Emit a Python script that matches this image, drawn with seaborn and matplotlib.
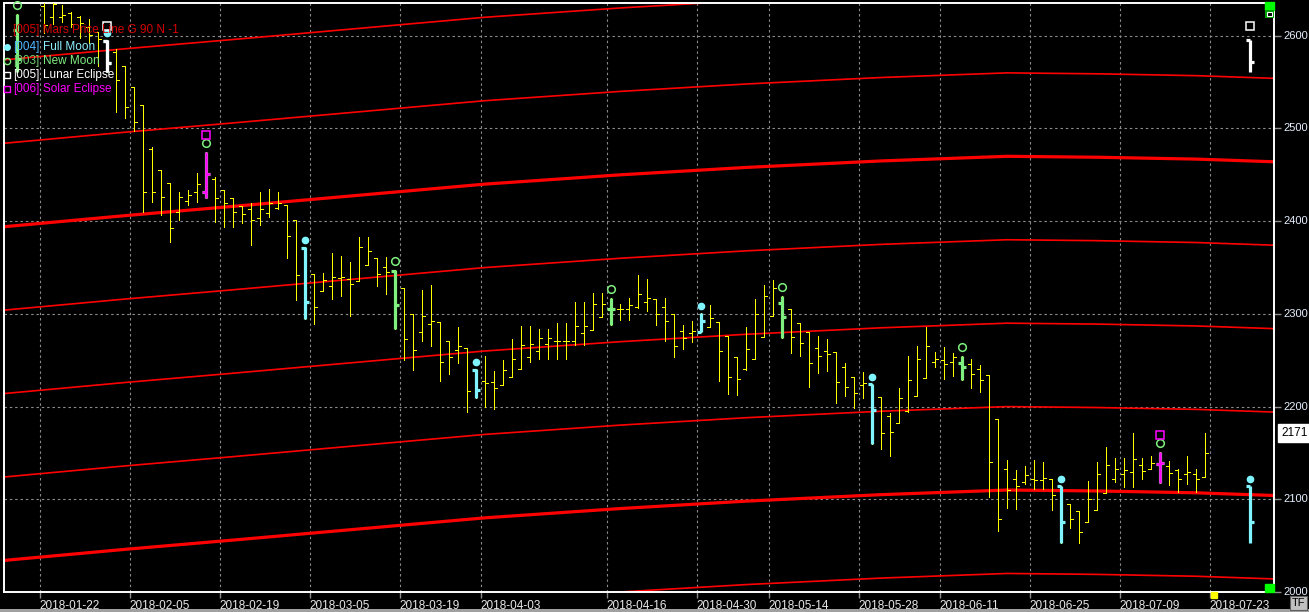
import numpy as np
import pandas as pd
import matplotlib
matplotlib.use("Agg")
import matplotlib.pyplot as plt
import seaborn as sns
from matplotlib.patches import Rectangle
from matplotlib.transforms import offset_copy, blended_transform_factory

# ---------------- data ----------------
opens = [2606, np.nan, np.nan, 2632, 2620, 2620, 2625, 2620, 2610, 2604,
         2594, 2583, 2567, 2545, 2525, 2478, 2455, 2441, 2410, 2422,
         2432, 2431, 2445, 2434, 2425, 2416, 2413, 2403, 2409, 2414,
         2417, 2401, 2371, 2343, 2325, 2330, 2339, 2338, 2336, 2353,
         2360, 2351, 2346, 2328, 2300, 2280, 2289, 2291, 2271, 2261,
         2263, 2240, 2228, 2227, 2223, 2232, 2241, 2253, 2260, 2267,
         2271, 2271, 2271, 2279, 2283, 2297, 2305, 2305, 2305, 2307,
         2313, 2316, 2307, 2300, 2282, 2279, 2280, 2286, 2291, 2276,
         2254, 2241, 2251, 2275, 2298, 2312, 2305, 2290, 2280, 2263,
         2260, 2259, 2243, 2232, 2223, 2224, 2210, 2190, 2182, 2195,
         2211, 2231, 2248, 2250, 2248, 2247, 2246, 2241, 2234, 2187,
         2133, 2122, 2119, 2122, 2121, 2122, 2114, 2095, 2087, 2076,
         2088, 2107, 2122, 2127, 2129, 2137, 2133, 2138, 2136, 2132,
         2127, 2127, 2124]
highs = [2623, np.nan, np.nan, 2640, 2640, 2633, 2626, 2621, 2618, 2604,
         2595, 2586, 2567, 2545, 2525, 2480, 2455, 2441, 2432, 2434,
         2452, 2475, 2448, 2434, 2425, 2416, 2420, 2431, 2435, 2431,
         2417, 2401, 2372, 2343, 2344, 2366, 2362, 2356, 2383, 2383,
         2360, 2361, 2347, 2328, 2300, 2326, 2331, 2291, 2271, 2286,
         2263, 2241, 2255, 2238, 2250, 2273, 2287, 2287, 2284, 2284,
         2290, 2290, 2313, 2313, 2323, 2323, 2317, 2311, 2317, 2342,
         2338, 2316, 2317, 2300, 2288, 2292, 2301, 2310, 2291, 2276,
         2254, 2286, 2316, 2331, 2337, 2319, 2305, 2290, 2280, 2276,
         2273, 2259, 2247, 2232, 2237, 2224, 2210, 2193, 2220, 2255,
         2265, 2286, 2259, 2264, 2258, 2255, 2251, 2245, 2234, 2187,
         2142, 2132, 2136, 2142, 2140, 2122, 2114, 2095, 2087, 2120,
         2140, 2156, 2145, 2145, 2172, 2145, 2147, 2151, 2141, 2133,
         2147, 2133, 2172]
lows = [2561, np.nan, np.nan, 2603, 2613, 2615, 2610, 2598, 2592, 2567,
        2561, 2518, 2511, 2497, 2410, 2421, 2407, 2378, 2401, 2417,
        2421, 2425, 2399, 2394, 2394, 2398, 2374, 2396, 2405, 2413,
        2360, 2315, 2295, 2289, 2325, 2316, 2319, 2298, 2335, 2353,
        2330, 2322, 2284, 2250, 2239, 2271, 2265, 2228, 2235, 2247,
        2194, 2209, 2200, 2197, 2223, 2232, 2241, 2248, 2251, 2251,
        2251, 2251, 2266, 2266, 2283, 2297, 2288, 2293, 2293, 2306,
        2303, 2288, 2271, 2254, 2262, 2270, 2280, 2286, 2228, 2214,
        2212, 2240, 2251, 2275, 2298, 2274, 2258, 2255, 2221, 2236,
        2238, 2204, 2211, 2198, 2209, 2160, 2154, 2147, 2182, 2194,
        2211, 2231, 2243, 2230, 2233, 2229, 2220, 2216, 2103, 2066,
        2091, 2090, 2117, 2111, 2111, 2088, 2053, 2069, 2053, 2076,
        2088, 2107, 2119, 2113, 2113, 2122, 2133, 2118, 2115, 2108,
        2117, 2108, 2124]
closes = [2575, np.nan, np.nan, 2612, 2634, 2622, 2613, 2614, 2601, 2597,
          2571, 2552, 2523, 2507, 2432, 2431, 2426, 2393, 2426, 2428,
          2440, 2451, 2425, 2420, 2410, 2408, 2401, 2413, 2420, 2420,
          2384, 2342, 2313, 2307, 2337, 2340, 2340, 2332, 2372, 2368,
          2343, 2345, 2310, 2273, 2261, 2298, 2292, 2248, 2253, 2265,
          2217, 2218, 2225, 2220, 2239, 2251, 2266, 2267, 2274, 2274,
          2271, 2271, 2287, 2287, 2311, 2311, 2305, 2305, 2310, 2321,
          2317, 2300, 2292, 2265, 2274, 2282, 2292, 2296, 2260, 2232,
          2230, 2262, 2300, 2319, 2328, 2297, 2275, 2269, 2247, 2255,
          2257, 2226, 2221, 2215, 2225, 2196, 2172, 2173, 2209, 2229,
          2251, 2265, 2251, 2246, 2253, 2243, 2235, 2229, 2140, 2079,
          2110, 2114, 2126, 2121, 2123, 2105, 2076, 2079, 2065, 2100,
          2127, 2137, 2133, 2132, 2143, 2131, 2139, 2139, 2128, 2122,
          2129, 2122, 2150]

full_moon_bars = [10, 32, 51, 76, 95, 116]
new_moon_bars = [0, 21, 42, 66, 85, 105, 127]
lunar_eclipse_bars = [10]
solar_eclipse_bars = [21, 127]

# projected marks beyond the last bar (bar, open, high, low, close)
future_full_moon = (137, 2114, 2114, 2053, 2076)
future_lunar_eclipse = (137, 2595, 2595, 2561, 2572)

tick_bars = [3, 13, 23, 33, 43, 52, 66, 76, 84, 94, 103, 113, 123, 133]
tick_labels = ["2018-01-22", "2018-02-05", "2018-02-19", "2018-03-05", "2018-03-19",
               "2018-04-03", "2018-04-16", "2018-04-30", "2018-05-14", "2018-05-28",
               "2018-06-11", "2018-06-25", "2018-07-09", "2018-07-23"]
price_ticks = [2000, 2100, 2200, 2300, 2400, 2500, 2600]
last_price = 2171
current_bar = 133

# Mars price line: base curve anchors, repeated every 90 points
mars_bars = [-1.5, 12, 24, 38, 52, 67, 81, 96, 110, 120, 131, 140]
mars_base = [2214, 2226, 2236, 2248, 2260, 2270, 2278, 2285, 2290, 2289, 2287, 2284]
mars_offsets = [360, 270, 180, 90, 0, -90, -180, -270]
mars_thick = [180, -180]

# ---------------- figure ----------------
W, H = 1309, 612
sns.set_theme(style="dark")
plt.rcParams["font.family"] = ["Liberation Sans", "DejaVu Sans"]

fig = plt.figure(figsize=(W / 100, H / 100), dpi=100, facecolor="black")
ax = fig.add_axes([4 / W, 1 - 592 / H, (1274 - 4) / W, (592 - 2.5) / H])
ax.set_facecolor("black")

px_per_bar = 9.0
x_left = (4 - 17) / px_per_bar
x_right = (1274 - 17) / px_per_bar
ylo = 2000
yhi = 2000 + (592 - 2.5) / 0.927
ax.set_xlim(x_left, x_right)
ax.set_ylim(ylo, yhi)

# grid
grid_kw = dict(color="#8c8c8c", linestyle=(0, (2.2, 2.6)), linewidth=0.8, zorder=1)
for p in price_ticks:
    ax.axhline(p, **grid_kw)
for b in tick_bars:
    ax.axvline(b - 0.5, **grid_kw)

# Mars price lines via seaborn
rows = []
for off in mars_offsets:
    for b, v in zip(mars_bars, mars_base):
        rows.append({"bar": b, "price": v + off, "line": off})
df_mars = pd.DataFrame(rows)
for off in mars_offsets:
    sub = df_mars[df_mars["line"] == off]
    sns.lineplot(data=sub, x="bar", y="price", ax=ax, color="#ff0000",
                 linewidth=2.3 if off in mars_thick else 1.2,
                 estimator=None, sort=False, zorder=2, legend=False)

# OHLC bars
df = pd.DataFrame({"o": opens, "h": highs, "l": lows, "c": closes})
df["bar"] = np.arange(len(df))
d = df.dropna()
tw = 0.36
ylw = 0.68
ax.vlines(d["bar"], d["l"], d["h"], color="#ffff00", linewidth=ylw, zorder=3, antialiased=False)
ax.hlines(d["o"], d["bar"] - tw, d["bar"], color="#ffff00", linewidth=ylw, zorder=3, antialiased=False)
ax.hlines(d["c"], d["bar"], d["bar"] + tw, color="#ffff00", linewidth=ylw, zorder=3, antialiased=False)

def event_bar(b, o, h, l, c, color, lw=2.3, z=5):
    ax.vlines([b], [l], [h], color=color, linewidth=lw, zorder=z)
    ax.hlines([o], [b - 0.45], [b], color=color, linewidth=lw, zorder=z)
    ax.hlines([c], [b], [b + 0.45], color=color, linewidth=lw, zorder=z)

def marker(b, y, dy, **kw):
    tr = offset_copy(ax.transData, fig=fig, y=dy, units="dots")
    ax.plot([b], [y], transform=tr, linestyle="none", zorder=6, clip_on=False, **kw)

CYAN = "#80f4ff"
GREEN = "#7ff07f"
MAG = "#ff00ff"

for b in full_moon_bars:
    r = df.loc[b]
    event_bar(b, r.o, r.h, r.l, r.c, CYAN)
    marker(b, r.h, 7, marker="o", ms=4.5, mfc=CYAN, mec=CYAN)
for b in new_moon_bars:
    r = df.loc[b]
    event_bar(b, r.o, r.h, r.l, r.c, GREEN)
    marker(b, r.h, 9, marker="o", ms=5.5, mfc="none", mec=GREEN, mew=1.1)
for b in lunar_eclipse_bars:
    r = df.loc[b]
    event_bar(b, r.o, r.h, r.l, r.c, "white", z=5.5)
    marker(b, r.h, 14, marker="s", ms=5.5, mfc="none", mec="white", mew=1.1)
for b in solar_eclipse_bars:
    r = df.loc[b]
    event_bar(b, r.o, r.h, r.l, r.c, MAG, lw=1.8, z=5.5)
    marker(b, r.h, 17, marker="s", ms=5.5, mfc="none", mec=MAG, mew=1.1)

fb, fo, fh, fl, fc = future_full_moon
event_bar(fb, fo, fh, fl, fc, CYAN)
marker(fb, fh, 7, marker="o", ms=4.5, mfc=CYAN, mec=CYAN)
fb, fo, fh, fl, fc = future_lunar_eclipse
event_bar(fb, fo, fh, fl, fc, "white")
marker(fb, fh, 14, marker="s", ms=5.5, mfc="none", mec="white", mew=1.1)

# current-bar marker below the time axis
tr_b = blended_transform_factory(ax.transData, ax.transAxes)
ax.add_patch(Rectangle((current_bar - 0.3, -0.011), 0.6, 0.011, transform=tr_b,
                       color="#ffff00", clip_on=False, zorder=7))

# axes styling
for s in ax.spines.values():
    s.set_color("white")
    s.set_linewidth(1.4)
ax.yaxis.tick_right()
ax.set_yticks(price_ticks)
ax.set_yticklabels([str(p) for p in price_ticks])
ax.tick_params(axis="y", colors="#8c8c8c", labelcolor="#e6f0ff", length=5, width=1,
               pad=2, labelsize=8, direction="out", right=True, left=False)
for t in ax.get_yticklabels():
    t.set_verticalalignment("center")
ax.set_xticks([b - 0.5 for b in tick_bars])
ax.set_xticklabels(tick_labels, ha="left")
ax.tick_params(axis="x", colors="#8c8c8c", labelcolor="#e8e8e8", length=4, width=1,
               pad=2, labelsize=8.5, direction="out", bottom=True)
ax.set_xlabel("")
ax.set_ylabel("")
ax.grid(False)

# ---------------- overlays in pixel space ----------------
def fx(x):
    return x / W

def fy(y):
    return 1 - y / H

leg_fs = 8.5
fig.text(fx(13), fy(30), "[005] Mars Price Line G 90 N -1", color="#d40000",
         fontsize=leg_fs, va="center", ha="left")
fig.text(fx(13), fy(47), "[004]", color="#4fb8ff", fontsize=leg_fs, va="center")
fig.text(fx(43), fy(47), "Full Moon", color="#8ff0ff", fontsize=leg_fs, va="center")
fig.text(fx(13), fy(61), "[003]", color="#6fd06f", fontsize=leg_fs, va="center")
fig.text(fx(43), fy(61), "New Moon", color="#80ec80", fontsize=leg_fs, va="center")
fig.text(fx(13), fy(75), "[005]", color="white", fontsize=leg_fs, va="center")
fig.text(fx(43), fy(75), "Lunar Eclipse", color="white", fontsize=leg_fs, va="center")
fig.text(fx(13), fy(89), "[006]", color=MAG, fontsize=leg_fs, va="center")
fig.text(fx(43), fy(89), "Solar Eclipse", color=MAG, fontsize=leg_fs, va="center")
fig.lines.extend([
    plt.Line2D([fx(7)], [fy(47)], marker="o", ms=4, mfc=CYAN, mec=CYAN, transform=fig.transFigure),
    plt.Line2D([fx(7)], [fy(61)], marker="o", ms=4.5, mfc="none", mec=GREEN, transform=fig.transFigure),
    plt.Line2D([fx(7)], [fy(75)], marker="s", ms=4.5, mfc="none", mec="white", transform=fig.transFigure),
    plt.Line2D([fx(7)], [fy(89)], marker="s", ms=4.5, mfc="none", mec=MAG, transform=fig.transFigure),
])

# last price box
fig.text(fx(1281), fy(433), str(last_price), color="black", fontsize=8.5, va="center", ha="left",
         bbox=dict(boxstyle="square,pad=0.25", fc="white", ec="white"))

# small UI squares
def prect(x0, y0, x1, y1, **kw):
    fig.patches.append(Rectangle((fx(x0), fy(y1)), (x1 - x0) / W, (y1 - y0) / H,
                                 transform=fig.transFigure, **kw))

prect(1265, 2, 1274, 10, color="#00ff00", zorder=10)
prect(1265, 10, 1274, 18, fc="#00a000", ec="none", zorder=10)
prect(1267, 12, 1272, 16, fc="black", ec="white", lw=0.8, zorder=11)
prect(1265, 584, 1274, 592, color="#00ff00", zorder=10)
prect(1290, 596, 1307, 610, fc="#c0c0c0", ec="#606060", lw=0.8, zorder=10)
fig.text(fx(1298.5), fy(603), "TF", color="black", fontsize=8, ha="center", va="center", zorder=11)
prect(0, 609, 1309, 612, fc="#a0a0a0", ec="none", zorder=9)

fig.savefig("out.png", dpi=100, facecolor="black")
